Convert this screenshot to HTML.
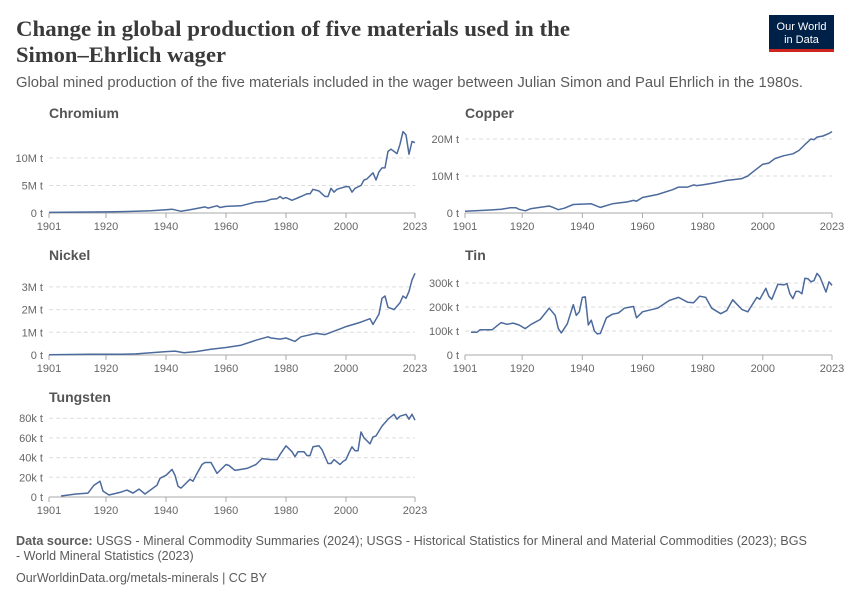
<!DOCTYPE html>
<html><head><meta charset="utf-8"><style>
body{margin:0;background:#fff;width:850px;height:600px;overflow:hidden;font-family:"Liberation Sans",sans-serif}
</style></head><body>
<svg id="s" width="850" height="600" xmlns="http://www.w3.org/2000/svg" font-family="Liberation Sans, sans-serif">
<text x="16" y="36" font-family="Liberation Serif, serif" font-size="22" font-weight="bold" fill="#3a3a3a" textLength="554" lengthAdjust="spacingAndGlyphs">Change in global production of five materials used in the</text>
<text x="16" y="62" font-family="Liberation Serif, serif" font-size="22" font-weight="bold" fill="#3a3a3a" textLength="210" lengthAdjust="spacingAndGlyphs">Simon–Ehrlich wager</text>
<text x="16" y="87" font-size="14.3" fill="#5b5b5b" textLength="787" lengthAdjust="spacingAndGlyphs">Global mined production of the five materials included in the wager between Julian Simon and Paul Ehrlich in the 1980s.</text>
<rect x="769" y="15" width="65" height="34" fill="#002147"/>
<rect x="769" y="49" width="65" height="3" fill="#ce261e"/>
<text x="801.5" y="30" font-size="11" fill="#fff" text-anchor="middle">Our World</text>
<text x="801.5" y="43" font-size="11" fill="#fff" text-anchor="middle">in Data</text>
<text x="16" y="545" font-size="12.5" fill="#5b5b5b" textLength="791" lengthAdjust="spacingAndGlyphs"><tspan font-weight="bold">Data source:</tspan> USGS - Mineral Commodity Summaries (2024); USGS - Historical Statistics for Mineral and Material Commodities (2023); BGS</text>
<text x="16" y="560" font-size="12.5" fill="#5b5b5b">- World Mineral Statistics (2023)</text>
<text x="16" y="582" font-size="12.5" fill="#5b5b5b">OurWorldinData.org/metals-minerals | CC BY</text>
<g id="g"></g>
</svg>
<script>
const NS="http://www.w3.org/2000/svg";const g=document.getElementById('g');
function el(t,a,txt){const e=document.createElementNS(NS,t);for(const k in a)e.setAttribute(k,a[k]);if(txt!==undefined)e.textContent=txt;g.appendChild(e);return e;}
function chart(o){
 const x0=o.x0,x1=o.x1,b=o.base;
 el('text',{x:o.tx,y:b-95,'font-size':14,'font-weight':'bold',fill:'#555'},o.title);
 o.ticks.forEach(t=>{const y=b-t[0]*o.k;
  if(t[0]>0)el('line',{x1:x0,x2:x1,y1:y,y2:y,stroke:'#ddd','stroke-dasharray':'4,3'});
  el('text',{x:x0-6,y:y+4,'font-size':11,fill:'#666','text-anchor':'end'},t[1]);});
 el('line',{x1:x0,x2:x1,y1:b,y2:b,stroke:'#aaa'});
 [1901,1920,1940,1960,1980,2000,2023].forEach(yr=>{const x=x0+(yr-1901)/122*(x1-x0);
  el('line',{x1:x,x2:x,y1:b,y2:b+5,stroke:'#aaa'});
  el('text',{x:x,y:b+17,'font-size':11,fill:'#666','text-anchor':'middle'},String(yr));});
 const d=o.data;let p='';
 for(let i=0;i<d.length;i+=2){const x=x0+(d[i]-1901)/122*(x1-x0),y=b-d[i+1]*o.k;p+=(i?'L':'M')+x.toFixed(1)+','+y.toFixed(1);}
 el('path',{d:p,fill:'none',stroke:'#4c6a9c','stroke-width':1.5,'stroke-linejoin':'round'});
}
chart({title:'Chromium',tx:49,x0:49,x1:415,base:213,k:5.5,ticks:[[0,'0 t'],[5,'5M t'],[10,'10M t']],
data:[1901,.1,1920,.2,1930,.3,1935,.4,1940,.6,1942,.7,1945,.3,1948,.6,1950,.8,1953,1.1,1954,.9,1957,1.3,1958,1.0,1960,1.2,1965,1.3,1970,2,1973,2.1,1975,2.5,1977,2.6,1978,3,1979,2.6,1980,2.8,1982,2.3,1985,3,1987,3.5,1988,3.5,1989,4.3,1991,4,1992,3.5,1993,3,1994,3,1995,4.5,1996,3.8,1997,4.3,1998,4.5,2000,4.8,2001,4.8,2002,3.8,2003,4.5,2005,5,2006,6,2007,6.2,2009,7.3,2010,6,2011,7.5,2012,8.2,2013,8.2,2014,11.2,2015,11.6,2017,10.8,2018,12.5,2019,14.8,2020,14.2,2021,10.7,2022,13,2023,12.8]});
chart({title:'Copper',tx:465,x0:465,x1:832,base:213,k:3.7,ticks:[[0,'0 t'],[10,'10M t'],[20,'20M t']],
data:[1901,.5,1907,.7,1910,.85,1913,1.0,1916,1.4,1918,1.4,1919,1.0,1921,.6,1923,1.2,1925,1.4,1929,1.9,1930,1.6,1932,.9,1934,1.3,1937,2.3,1940,2.4,1943,2.5,1945,1.8,1946,1.5,1950,2.5,1955,3,1957,3.4,1958,3.2,1960,4.2,1965,5,1970,6.3,1972,7,1975,7,1977,7.6,1978,7.4,1980,7.6,1983,8,1985,8.3,1988,8.8,1990,9,1993,9.3,1995,10,1997,11.3,2000,13.2,2002,13.5,2004,14.7,2007,15.5,2010,16,2012,16.9,2014,18.5,2016,20,2017,19.8,2018,20.5,2020,20.8,2022,21.5,2023,22]});
chart({title:'Nickel',tx:49,x0:49,x1:415,base:355,k:22.7,ticks:[[0,'0 t'],[1,'1M t'],[2,'2M t'],[3,'3M t']],
data:[1901,.01,1915,.03,1920,.03,1925,.03,1930,.05,1935,.1,1940,.15,1943,.17,1946,.1,1950,.15,1955,.25,1960,.33,1965,.43,1970,.65,1974,.8,1975,.75,1978,.7,1980,.75,1983,.6,1985,.8,1990,.95,1993,.9,1995,1.0,1998,1.15,2000,1.25,2005,1.45,2008,1.6,2009,1.35,2011,1.8,2012,2.5,2013,2.6,2014,2.1,2016,2.0,2018,2.3,2019,2.6,2020,2.5,2021,2.8,2022,3.3,2023,3.6]});
chart({title:'Tin',tx:465,x0:465,x1:832,base:355,k:.24,ticks:[[0,'0 t'],[100,'100k t'],[200,'200k t'],[300,'300k t']],
data:[1903,95,1905,95,1906,105,1910,105,1913,135,1915,128,1917,133,1919,125,1921,110,1923,128,1926,148,1929,195,1931,165,1932,110,1933,92,1935,130,1937,210,1938,165,1939,180,1940,240,1941,242,1942,125,1943,145,1944,100,1945,88,1946,90,1948,155,1950,170,1952,175,1954,195,1956,200,1957,202,1958,155,1960,180,1965,195,1969,228,1972,240,1975,220,1977,218,1979,245,1981,240,1983,195,1986,172,1988,185,1990,230,1993,190,1995,180,1998,240,1999,232,2001,278,2002,245,2003,232,2005,295,2007,292,2008,298,2009,255,2010,235,2011,265,2012,265,2013,255,2014,320,2015,318,2016,305,2017,310,2018,340,2019,325,2021,262,2022,305,2023,290]});
chart({title:'Tungsten',tx:49,x0:49,x1:415,base:497,k:.985,ticks:[[0,'0 t'],[20,'20k t'],[40,'40k t'],[60,'60k t'],[80,'80k t']],
data:[1905,1,1910,3,1914,4,1916,12,1918,16,1919,6,1921,2,1925,5,1927,7,1929,4,1931,8,1933,3,1937,12,1938,19,1940,22,1941,25,1942,28,1943,22,1944,11,1945,9,1948,18,1949,16,1950,22,1952,33,1953,35,1955,35,1957,24,1960,33,1961,32,1963,27,1965,28,1967,29,1970,33,1972,39,1975,38,1977,38,1978,43,1980,52,1982,46,1983,41,1984,46,1986,46,1987,42,1988,42,1989,51,1991,52,1992,48,1994,34,1995,34,1996,38,1998,33,1999,36,2000,38,2001,45,2002,51,2003,47,2004,47,2005,66,2006,60,2008,54,2009,61,2010,62,2012,72,2014,79,2016,84,2017,79,2018,82,2020,84,2021,79,2022,84,2023,78]});
</script>
</body></html>
